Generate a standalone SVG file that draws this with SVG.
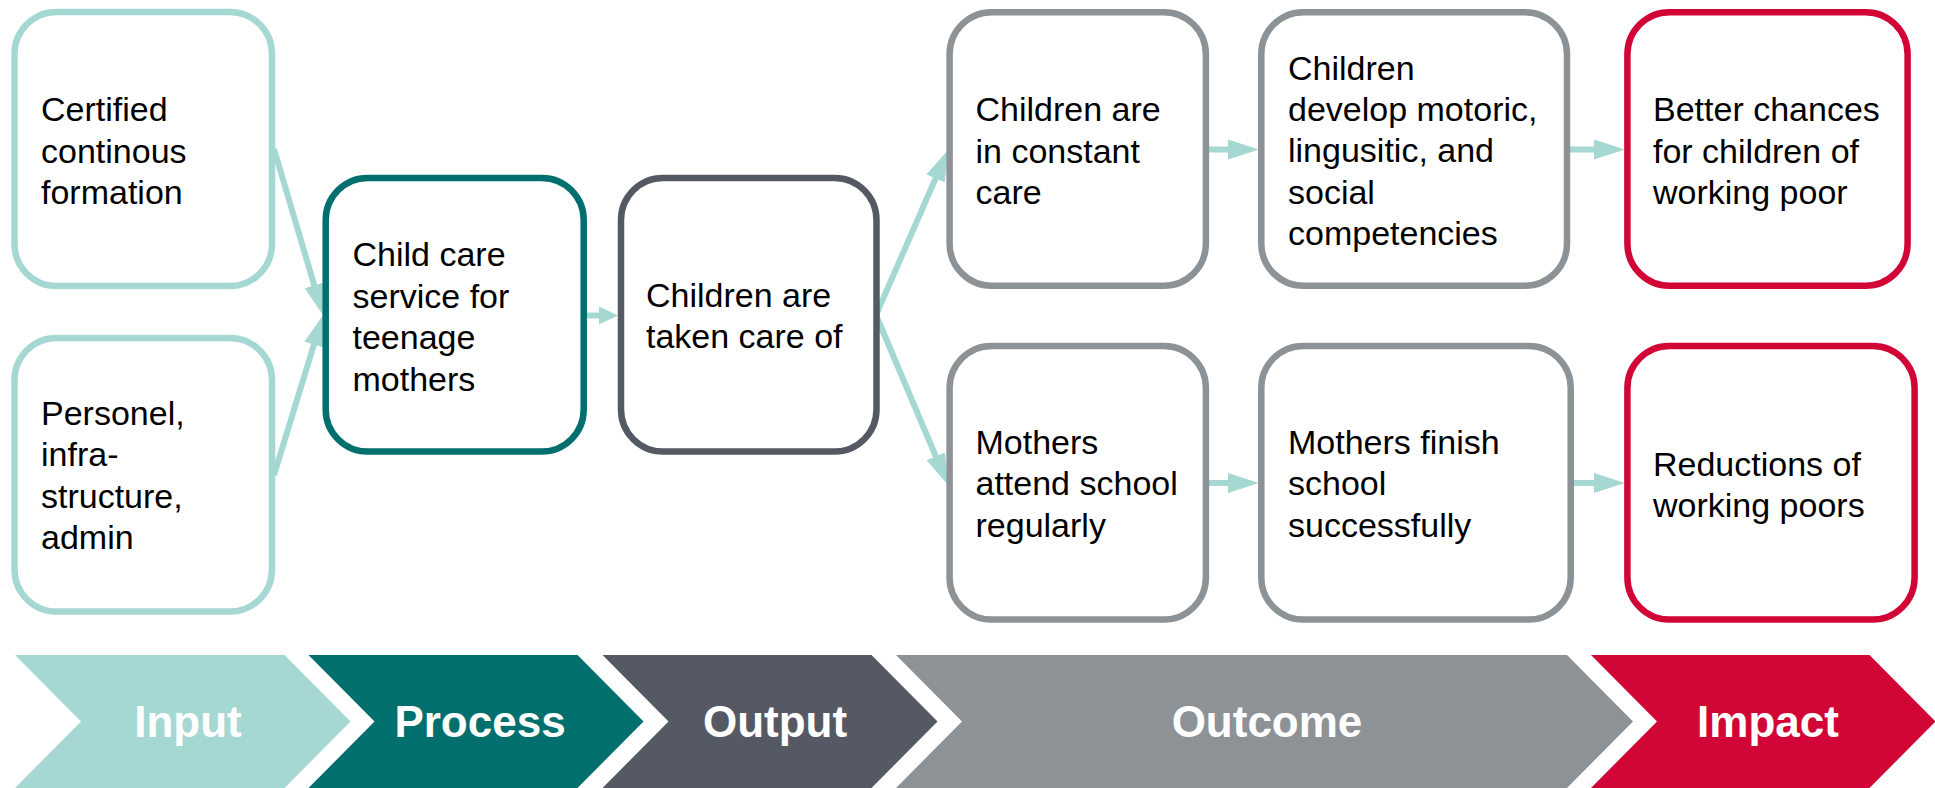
<svg xmlns="http://www.w3.org/2000/svg" width="1935" height="788" viewBox="0 0 1935 788">
<style>
  .box { fill: #FFFFFF; stroke-width: 6.5; }
  .in { stroke: #A6D8D3; }
  .pr { stroke: #006F6E; }
  .ou { stroke: #545963; }
  .oc { stroke: #8D9297; }
  .im { stroke: #D20537; }
  .lbl { font-family: "Liberation Sans", Arial, sans-serif; font-size: 34px; fill: #000000; }
  .conn { stroke: #A6D8D3; stroke-width: 6; fill: none; }
  .stage { font-family: "Liberation Sans", Arial, sans-serif; font-size: 44px; font-weight: bold; fill: #FFFFFF; text-anchor: middle; }
</style>
<defs>
  <marker id="ah" markerUnits="userSpaceOnUse" viewBox="0 0 31 20" refX="16" refY="10" markerWidth="31" markerHeight="20" orient="auto">
    <path d="M0,0 L31,10 L0,20 Z" fill="#A6D8D3"/>
  </marker>
  <marker id="ahs" markerUnits="userSpaceOnUse" viewBox="0 0 19 18" refX="10" refY="9" markerWidth="19" markerHeight="18" orient="auto">
    <path d="M0,0 L19,9 L0,18 Z" fill="#A6D8D3"/>
  </marker>
</defs>

<g id="connectors">
  <line class="conn" x1="274" y1="149" x2="318.75" y2="300.6" marker-end="url(#ah)"/>
  <line class="conn" x1="274" y1="475" x2="318.6" y2="329.3" marker-end="url(#ah)"/>
  <line class="conn" x1="584" y1="315.5" x2="609" y2="315.5" marker-end="url(#ahs)"/>
  <line class="conn" x1="876" y1="315" x2="942" y2="163.8" marker-end="url(#ah)"/>
  <line class="conn" x1="876" y1="315" x2="942" y2="471" marker-end="url(#ah)"/>
  <line class="conn" x1="1207" y1="149.5" x2="1244" y2="149.5" marker-end="url(#ah)"/>
  <line class="conn" x1="1207" y1="483" x2="1244" y2="483" marker-end="url(#ah)"/>
  <line class="conn" x1="1569" y1="149.5" x2="1610" y2="149.5" marker-end="url(#ah)"/>
  <line class="conn" x1="1572" y1="483" x2="1610" y2="483" marker-end="url(#ah)"/>
</g>

<g id="n-certified">
  <rect class="box in" x="14.5" y="12" width="257.5" height="274" rx="42"/>
  <text class="lbl"><tspan x="41" y="121.2">Certified</tspan><tspan x="41" y="162.6">continous</tspan><tspan x="41" y="204">formation</tspan></text>
</g>
<g id="n-personel">
  <rect class="box in" x="14.5" y="338" width="257.5" height="273.5" rx="42"/>
  <text class="lbl"><tspan x="41" y="424.5">Personel,</tspan><tspan x="41" y="466">infra-</tspan><tspan x="41" y="507.5">structure,</tspan><tspan x="41" y="549">admin</tspan></text>
</g>
<g id="n-childcare">
  <rect class="box pr" x="325.7" y="178" width="258" height="273.5" rx="42"/>
  <text class="lbl"><tspan x="352.5" y="266">Child care</tspan><tspan x="352.5" y="307.5">service for</tspan><tspan x="352.5" y="349">teenage</tspan><tspan x="352.5" y="390.5">mothers</tspan></text>
</g>
<g id="n-takencare">
  <rect class="box ou" x="621" y="178" width="255.5" height="273.5" rx="42"/>
  <text class="lbl"><tspan x="646" y="307">Children are</tspan><tspan x="646" y="348.3">taken care of</tspan></text>
</g>
<g id="n-constant">
  <rect class="box oc" x="949.6" y="12.2" width="256.3" height="273.5" rx="42"/>
  <text class="lbl"><tspan x="975.5" y="121.2">Children are</tspan><tspan x="975.5" y="162.5">in constant</tspan><tspan x="975.5" y="203.8">care</tspan></text>
</g>
<g id="n-attend">
  <rect class="box oc" x="949.6" y="346" width="256.3" height="273.6" rx="42"/>
  <text class="lbl"><tspan x="975.5" y="454">Mothers</tspan><tspan x="975.5" y="495.3">attend school</tspan><tspan x="975.5" y="536.6">regularly</tspan></text>
</g>
<g id="n-develop">
  <rect class="box oc" x="1261.3" y="12.2" width="305.7" height="273.5" rx="42"/>
  <text class="lbl"><tspan x="1288" y="79.6">Children</tspan><tspan x="1288" y="121">develop motoric,</tspan><tspan x="1288" y="162.4">lingusitic, and</tspan><tspan x="1288" y="203.7">social</tspan><tspan x="1288" y="245">competencies</tspan></text>
</g>
<g id="n-finish">
  <rect class="box oc" x="1261.3" y="346" width="309.4" height="273.6" rx="42"/>
  <text class="lbl"><tspan x="1288" y="454">Mothers finish</tspan><tspan x="1288" y="495.3">school</tspan><tspan x="1288" y="536.6">successfully</tspan></text>
</g>
<g id="n-better">
  <rect class="box im" x="1627.4" y="12.2" width="280.2" height="273.5" rx="42"/>
  <text class="lbl"><tspan x="1653" y="121.2">Better chances</tspan><tspan x="1653" y="162.5">for children of</tspan><tspan x="1653" y="203.8">working poor</tspan></text>
</g>
<g id="n-reductions">
  <rect class="box im" x="1627.4" y="346" width="287.2" height="273.6" rx="42"/>
  <text class="lbl"><tspan x="1653" y="475.5">Reductions of</tspan><tspan x="1653" y="516.8">working poors</tspan></text>
</g>

<g id="stages">
  <g id="s-input">
    <polygon points="15,655 284.5,655 350.5,721.5 284.5,788 15,788 81,721.5" fill="#A6D8D3"/>
    <text class="stage" x="188" y="737">Input</text>
  </g>
  <g id="s-process">
    <polygon points="308.5,655 577.5,655 643.5,721.5 577.5,788 308.5,788 374.5,721.5" fill="#006F6E"/>
    <text class="stage" x="480" y="737">Process</text>
  </g>
  <g id="s-output">
    <polygon points="602.5,655 871.5,655 937.5,721.5 871.5,788 602.5,788 668.5,721.5" fill="#545963"/>
    <text class="stage" x="775" y="737">Output</text>
  </g>
  <g id="s-outcome">
    <polygon points="896,655 1567,655 1633,721.5 1567,788 896,788 962,721.5" fill="#8D9297"/>
    <text class="stage" x="1267" y="737">Outcome</text>
  </g>
  <g id="s-impact">
    <polygon points="1591,655 1869.5,655 1935.5,721.5 1869.5,788 1591,788 1657,721.5" fill="#D20537"/>
    <text class="stage" x="1768" y="737">Impact</text>
  </g>
</g>
</svg>
